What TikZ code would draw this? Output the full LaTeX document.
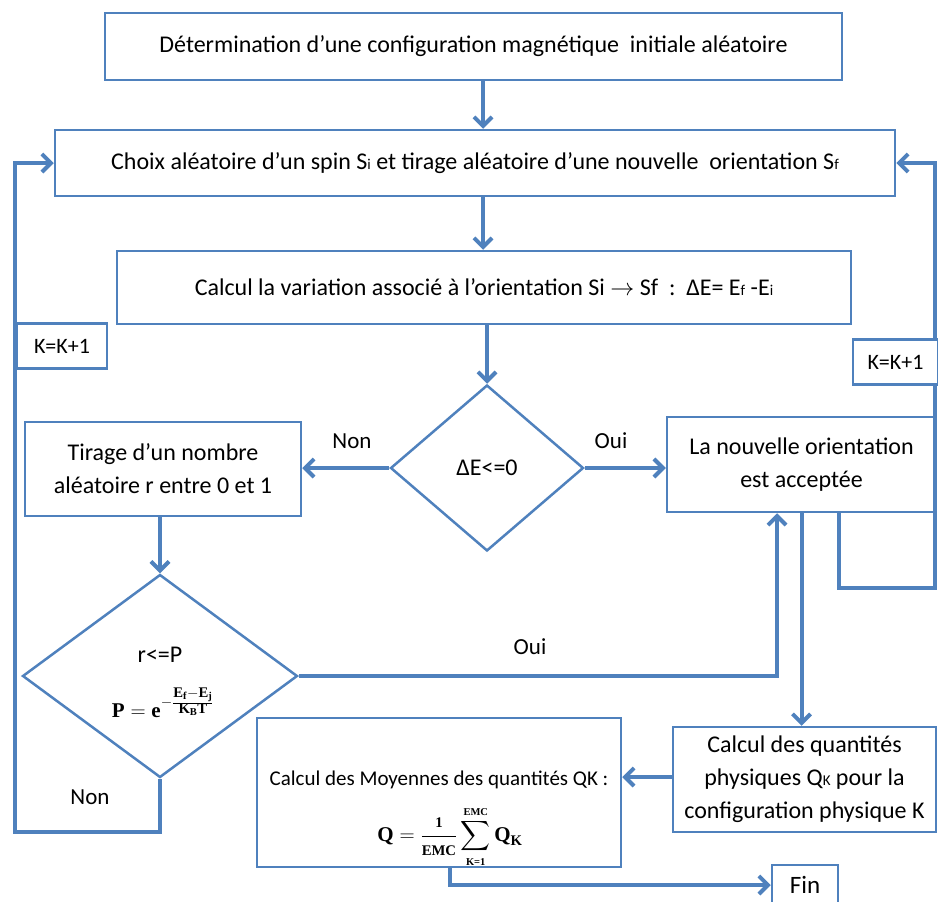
\RequirePackage{fix-cm}
\documentclass[tikz,border=0pt]{standalone}
\usepackage{exscale}
\usepackage{amsmath}
\usepackage{fontspec}
\setmainfont{Carlito}
\newfontfamily\formfont{Liberation Serif}
\usetikzlibrary{arrows.meta,shapes.geometric}
\definecolor{flowblue}{HTML}{4F81BD}
\newcommand\mainfnt{\fontsize{24}{33}\selectfont}
\newcommand\labfnt{\fontsize{23}{26}\selectfont}
\newcommand\kfnt{\fontsize{22}{25}\selectfont}
\newcommand\smsub[1]{{\fontsize{15}{15}\selectfont #1}}
% bold serif letters inside the formulas
\newcommand\fb[1]{\text{\formfont\bfseries #1}}

\begin{document}
\begin{tikzpicture}[x=1pt,y=-1pt,
  box/.style={draw=flowblue, line width=2.5pt, fill=white, inner sep=0pt,
    align=center, font=\mainfnt},
  kbox/.style={draw=flowblue, line width=2.5pt, fill=white, inner sep=0pt,
    font=\kfnt},
  decision/.style={diamond, draw=flowblue, line width=2.5pt, fill=white,
    inner sep=0pt, align=center, font=\mainfnt},
  conn/.style={draw=flowblue, line width=4pt},
  arr/.style={conn, -{Straight Barb[length=9pt,width=18pt]}},
  lab/.style={font=\labfnt, inner sep=0pt},
  formula/.style={inner sep=0pt}]
\useasboundingbox (0,0) rectangle (938,902);

% process boxes
\node[box, minimum width=737pt, minimum height=67pt] (top) at (473.5,46.5)
  {Détermination d’une configuration magnétique\ \ initiale aléatoire};
\node[box, minimum width=840pt, minimum height=66pt] (choix) at (475,163)
  {Choix aléatoire d’un spin S\smsub{i} et tirage aléatoire d’une nouvelle\ \ orientation S\smsub{f}};
\node[box, minimum width=734pt, minimum height=73pt] (var) at (484,287.5)
  {Calcul la variation associé à l’orientation Si $\rightarrow$ Sf\ \ :\ \ ΔE= E\smsub{f} -E\smsub{i}};
\node[box, minimum width=276pt, minimum height=94pt] (tirage) at (163,469)
  {Tirage d’un nombre\\aléatoire r entre 0 et 1};
\node[box, minimum width=269pt, minimum height=95pt] (nouv) at (801.5,464.5)
  {La nouvelle orientation\\est acceptée};
\node[box, minimum width=263pt, minimum height=105pt] (quant) at (804.5,779.5)
  {Calcul des quantités\\physiques Q\smsub{K} pour la\\configuration physique K};
\node[box, minimum width=364pt, minimum height=149pt] (moy) at (439,792.5) {};
\node[font=\fontsize{21}{24}\selectfont, inner sep=0pt] (moytext) at (439,780)
  {Calcul des Moyennes des quantités QK :};
\node[formula, font=\fontsize{21}{24}\selectfont] (moyform) at (450,837)
  {$\displaystyle \fb{Q}=\frac{\scriptstyle\fb{1}}{\scriptstyle\fb{EMC}}\sum_{\scriptscriptstyle\fb{K=1}}^{\scriptscriptstyle\fb{EMC}}\fb{Q}_{\fb{K}}$};
\node[kbox, font=\fontsize{25}{28}\selectfont, minimum width=66pt, minimum height=40pt] (fin) at (805,885) {Fin};

% decisions
\node[decision, minimum width=193pt, minimum height=166pt] (d1) at (487,468) {ΔE<=0};
\node[decision, minimum width=275pt, minimum height=203pt] (d2) at (160,676) {};
\node[font=\mainfnt, inner sep=0pt] (d2cond) at (160,655) {r<=P};
\node[formula, font=\fontsize{21}{24}\selectfont] (d2form) at (163,703)
  {$\fb{P}=\fb{e}^{-\frac{\scriptstyle\fb{E}_{\fb{f}}-\fb{E}_{\fb{j}}}{\scriptstyle\fb{K}_{\fb{B}}\fb{T}}}$};

% loop-back corners
\coordinate (lc) at (15,832);
\coordinate (rc) at (935,588);

% connectors
\draw[arr] ([xshift=9.5pt]top.south) -- ([xshift=8pt]choix.north);
\draw[arr] ([xshift=8pt]choix.south) -- ([xshift=-1pt]var.north);
\draw[arr] ([xshift=3pt]var.south) -- (d1.north);
\draw[arr] (d1.west) -- (d1.west -| tirage.east);
\draw[arr] (d1.east) -- (d1.east -| nouv.west);
\draw[arr] ([xshift=-3pt]tirage.south) -- (d2.north);
\draw[arr] (d2.east) -| ([xshift=-24.5pt]nouv.south);
\draw[arr] (nouv.south) -- (nouv.south |- quant.north);
\draw[arr] ([xshift=37.5pt]nouv.south) |- (rc) |- (choix.east);
\draw[arr] (d2.south) |- (lc) |- (choix.west);
\draw[arr] ([yshift=2.5pt]quant.west) -- ([yshift=2.5pt]quant.west -| moy.east);
\draw[arr] ([xshift=11pt]moy.south) |- (fin.west);

% counters on the loops
\node[kbox, minimum width=90pt, minimum height=45pt] (kleft) at (62,346) {K=K+1};
\node[kbox, minimum width=85pt, minimum height=45pt] (kright) at (895.5,362) {K=K+1};

% branch labels
\node[lab] (non1) at (352,441) {Non};
\node[lab] (oui1) at (611,441) {Oui};
\node[lab] (oui2) at (530,647) {Oui};
\node[lab] (non2) at (90,797) {Non};
\end{tikzpicture}
\end{document}
